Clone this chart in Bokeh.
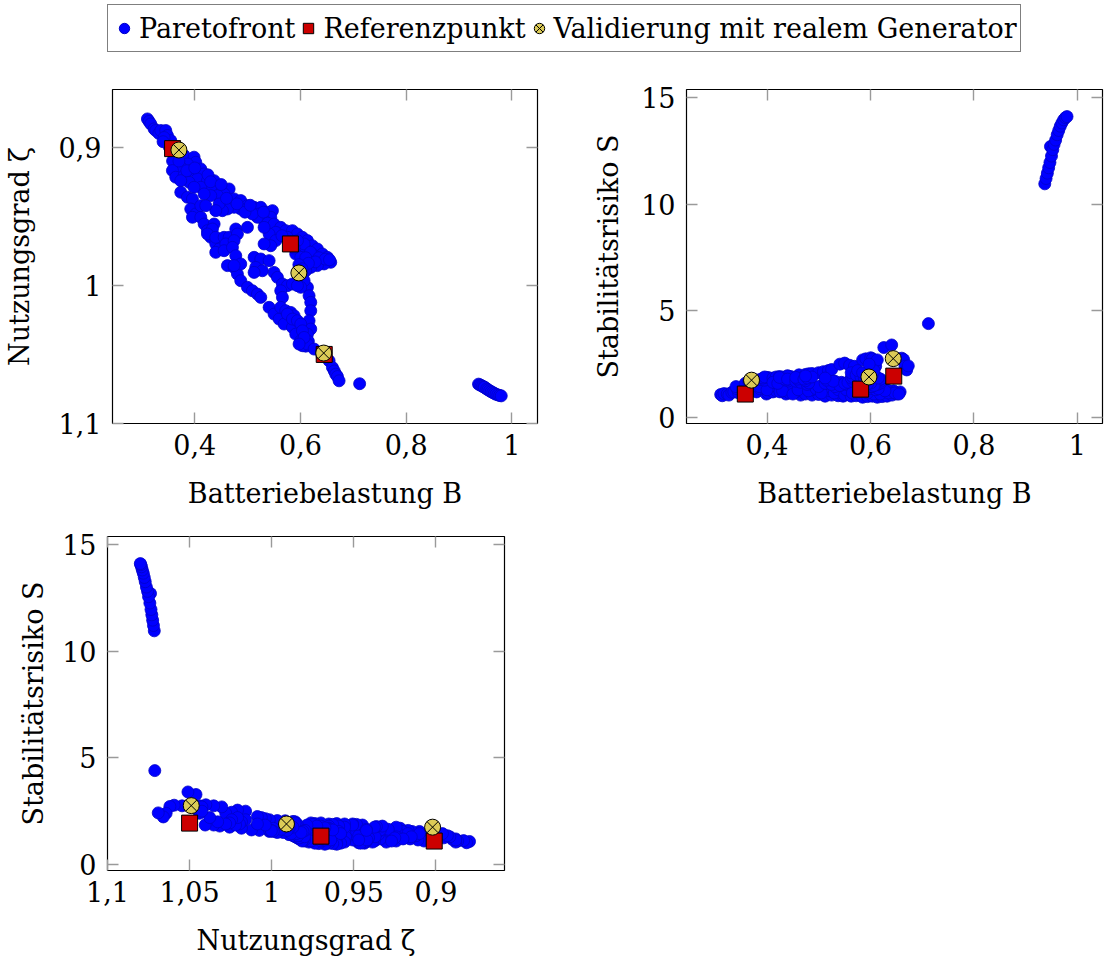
from bokeh.plotting import figure
from bokeh.models import (Range1d, FixedTicker, CustomJSTickFormatter, LinearAxis,
                          Legend, LegendItem, ColumnDataSource)
from bokeh.layouts import column, row
from bokeh.embed import file_html
from bokeh.resources import INLINE

# Pareto front: battery load B, utilisation zeta, stability risk S
B = [0.3104, 0.3135, 0.3167, 0.3230, 0.3262, 0.3320, 0.3357, 0.3451, 0.3483, 0.3546,
     0.3609, 0.3640, 0.3420, 0.3520, 0.3400, 0.3580,
     0.3798, 0.3987, 0.4019, 0.3861, 0.3735, 0.3577, 0.3640, 0.3798, 0.3924, 0.4114,
     0.4177, 0.4050, 0.3893, 0.3735, 0.4240, 0.4366, 0.4429, 0.4303, 0.4114, 0.3987,
     0.4650, 0.4555, 0.4429, 0.4303, 0.4177, 0.4744, 0.4870, 0.4997, 0.4870, 0.4744,
     0.4618, 0.4523, 0.4460, 0.4397, 0.5123, 0.5249, 0.5217, 0.5375, 0.5470, 0.5438,
     0.5312, 0.5186, 0.5091,
     0.3700, 0.3850, 0.4000, 0.4250, 0.4300, 0.4500, 0.4600, 0.4800, 0.4950, 0.5050,
     0.5300, 0.5380,
     0.5501, 0.5627, 0.5722, 0.5533, 0.5407, 0.5312, 0.5816, 0.5848, 0.5943, 0.6037,
     0.6132, 0.6226, 0.6321, 0.6416, 0.6510, 0.6573, 0.6447, 0.6321, 0.6195, 0.6100,
     0.6037, 0.6132, 0.6258, 0.6006, 0.6069, 0.5943, 0.5533, 0.5438, 0.5312, 0.5753,
     0.5911, 0.6006,
     0.5650, 0.5790, 0.5880, 0.6190, 0.6350, 0.6470, 0.6550, 0.6280, 0.6100, 0.6150,
     0.5970, 0.6030,
     0.6132, 0.6163, 0.6195, 0.6195, 0.6163, 0.6195, 0.6132, 0.6069, 0.6006, 0.6100,
     0.6150,
     0.3735, 0.3861, 0.3956, 0.3924, 0.4019, 0.3956, 0.4114, 0.4177, 0.4240, 0.4303,
     0.4397, 0.4460, 0.4397, 0.4618, 0.4744, 0.4807, 0.4870, 0.4997, 0.5091, 0.5186,
     0.5249, 0.5407, 0.5501, 0.5596, 0.5690, 0.5848, 0.5911, 0.6006, 0.6037, 0.6132,
     0.6258, 0.6410, 0.6542, 0.6605, 0.6640, 0.6668, 0.6700, 0.6731,
     0.4114, 0.4208, 0.4366, 0.4334, 0.4240, 0.4397, 0.4555, 0.4650, 0.4587, 0.4555,
     0.4776, 0.4997, 0.4807, 0.4744, 0.4713, 0.4776, 0.4870, 0.4744,
     0.5123, 0.5249, 0.5407, 0.5154, 0.5280, 0.5123, 0.5501, 0.5564, 0.5659, 0.5753,
     0.5848, 0.5943, 0.5627, 0.5659, 0.5627, 0.5722, 0.5816, 0.5880, 0.5753, 0.5848,
     0.5943, 0.6006, 0.6037, 0.6069, 0.5974,
     0.7120,
     0.9370, 0.9395, 0.9420, 0.9445, 0.9470, 0.9500, 0.9480, 0.9525, 0.9550, 0.9580,
     0.9610, 0.9640, 0.9670, 0.9700, 0.9735, 0.9770, 0.9800]

zeta = [0.8795, 0.8813, 0.8831, 0.8867, 0.8879, 0.8900, 0.8879, 0.8879, 0.8915, 0.8952,
        0.9048, 0.9097, 0.8930, 0.9000, 0.8960, 0.9100,
        0.9060, 0.9072, 0.9109, 0.9121, 0.9145, 0.9169, 0.9217, 0.9205, 0.9169, 0.9157,
        0.9193, 0.9229, 0.9254, 0.9242, 0.9242, 0.9242, 0.9290, 0.9302, 0.9290, 0.9290,
        0.9302, 0.9338, 0.9350, 0.9350, 0.9338, 0.9374, 0.9386, 0.9423, 0.9447, 0.9435,
        0.9447, 0.9459, 0.9411, 0.9459, 0.9435, 0.9435, 0.9483, 0.9471, 0.9459, 0.9507,
        0.9531, 0.9507, 0.9483,
        0.9100, 0.9170, 0.9150, 0.9200, 0.9250, 0.9270, 0.9370, 0.9410, 0.9470, 0.9420,
        0.9470, 0.9550,
        0.9556, 0.9580, 0.9604, 0.9616, 0.9628, 0.9580, 0.9652, 0.9604, 0.9628, 0.9652,
        0.9676, 0.9713, 0.9737, 0.9773, 0.9797, 0.9833, 0.9845, 0.9857, 0.9870, 0.9894,
        0.9930, 0.9749, 0.9785, 0.9725, 0.9700, 0.9676, 0.9676, 0.9713, 0.9700, 0.9652,
        0.9773, 0.9797,
        0.9640, 0.9700, 0.9730, 0.9760, 0.9800, 0.9810, 0.9815, 0.9830, 0.9800, 0.9840,
        0.9850, 0.9880,
        1.0014, 1.0075, 1.0123, 1.0184, 1.0256, 1.0316, 1.0353, 0.9966, 1.0014, 1.0440,
        1.0405,
        0.9326, 0.9362, 0.9374, 0.9447, 0.9483, 0.9507, 0.9507, 0.9556, 0.9604, 0.9652,
        0.9700, 0.9737, 0.9761, 0.9857, 0.9870, 0.9918, 0.9966, 1.0014, 1.0039, 1.0063,
        1.0087, 1.0159, 1.0208, 1.0244, 1.0280, 1.0304, 1.0353, 1.0401, 1.0437, 1.0425,
        1.0461, 1.0510, 1.0546, 1.0594, 1.0620, 1.0643, 1.0660, 1.0691,
        0.9423, 0.9423, 0.9556, 0.9592, 0.9628, 0.9652, 0.9652, 0.9652, 0.9700, 0.9749,
        0.9592, 0.9580, 0.9628, 0.9676, 0.9725, 0.9785, 0.9845, 0.9857,
        0.9797, 0.9809, 0.9821, 0.9870, 0.9894, 0.9906, 0.9906, 0.9942, 0.9990, 1.0002,
        0.9990, 1.0002, 1.0039, 1.0087, 1.0159, 1.0184, 1.0196, 1.0220, 1.0208, 1.0244,
        1.0256, 1.0280, 1.0329, 1.0377, 1.0425,
        1.0712,
        1.0715, 1.0720, 1.0725, 1.0730, 1.0735, 1.0742, 1.0738, 1.0750, 1.0756, 1.0763,
        1.0770, 1.0776, 1.0782, 1.0788, 1.0793, 1.0797, 1.0800]

S = [1.08, 1.02, 1.12, 1.10, 1.05, 1.18, 1.20, 1.15, 1.30, 1.25,
     1.40, 1.50, 1.35, 1.40, 1.45, 1.55,
     1.20, 1.10, 1.15, 1.35, 1.55, 1.60, 1.70, 1.55, 1.40, 1.20,
     1.25, 1.45, 1.60, 1.75, 1.30, 1.10, 1.15, 1.35, 1.50, 1.65,
     1.05, 1.20, 1.40, 1.55, 1.62, 1.10, 1.05, 1.08, 1.30, 1.40,
     1.50, 1.60, 1.50, 1.70, 1.00, 1.05, 1.25, 1.02, 1.00, 1.15,
     1.35, 1.45, 1.55,
     1.45, 1.45, 1.30, 1.20, 1.25, 1.10, 1.30, 1.25, 1.35, 1.15,
     1.15, 1.30,
     1.05, 1.00, 1.02, 1.30, 1.50, 1.45, 1.05, 0.95, 0.98, 1.00,
     0.95, 0.98, 1.00, 1.05, 1.10, 1.20, 1.25, 1.30, 1.35, 1.40,
     1.50, 1.15, 1.20, 1.20, 1.10, 1.15, 1.55, 1.65, 1.70, 1.25,
     1.40, 1.35,
     1.15, 1.20, 1.30, 1.10, 1.15, 1.15, 1.10, 1.25, 1.30, 1.35,
     1.45, 1.45,
     1.55, 1.60, 1.62, 1.70, 1.75, 1.80, 1.85, 1.50, 1.62, 2.40,
     1.85,
     1.80, 1.78, 1.75, 1.85, 1.88, 1.90, 1.85, 1.90, 1.92, 1.90,
     1.95, 1.92, 1.95, 2.00, 2.02, 2.05, 2.06, 2.10, 2.15, 2.20,
     2.25, 2.50, 2.55, 2.45, 2.40, 2.70, 2.75, 2.80, 2.75, 2.70,
     3.28, 3.40, 2.75, 2.78, 2.72, 2.40, 2.23, 2.42,
     1.65, 1.60, 1.75, 1.80, 1.88, 1.80, 1.70, 1.65, 1.80, 1.88,
     1.55, 1.45, 1.62, 1.72, 1.80, 1.85, 1.90, 1.95,
     1.60, 1.55, 1.50, 1.75, 1.70, 1.85, 1.60, 1.65, 1.70, 1.60,
     1.55, 1.58, 1.85, 1.90, 2.10, 2.00, 1.90, 1.85, 2.20, 2.10,
     1.95, 1.90, 2.00, 2.20, 2.50,
     4.40,
     10.95, 11.20, 11.45, 11.70, 11.95, 12.25, 12.70, 12.55, 12.80, 13.00,
     13.25, 13.45, 13.65, 13.80, 13.95, 14.05, 14.10]

# Reference operating points and validation with the real generator
ref_B = [0.358, 0.581, 0.645]
ref_zeta = [0.901, 0.970, 1.050]
ref_S = [1.10, 1.33, 1.94]

val_B = [0.370, 0.597, 0.644]
val_zeta = [0.902, 0.991, 1.049]
val_S = [1.75, 1.90, 2.76]

B_ticks = [0.4, 0.6, 0.8, 1.0]
zeta_ticks = [0.9, 1.0, 1.1]
zeta_ticks_x = [1.1, 1.05, 1.0, 0.95, 0.9]
S_ticks = [0, 5, 10, 15]

FONT = "DejaVu Serif"
FS = "27px"
PARETO_FILL = "#0000ff"
PARETO_LINE = "#0000c8"
REF_FILL = "#cc0000"
VAL_FILL = "#dccb57"

comma_fmt = CustomJSTickFormatter(code="return String(tick).replace('.', ',');")

pareto = ColumnDataSource(data=dict(B=B, zeta=zeta, S=S))
ref = ColumnDataSource(data=dict(B=ref_B, zeta=ref_zeta, S=ref_S))
val = ColumnDataSource(data=dict(B=val_B, zeta=val_zeta, S=val_S))


def style_axis(ax, ticks, standoff=11, show_labels=True):
    ax.ticker = FixedTicker(ticks=ticks)
    ax.formatter = comma_fmt
    ax.axis_line_color = None
    ax.major_tick_in = 11
    ax.major_tick_out = 0
    ax.major_tick_line_color = "#9a9a9a"
    ax.major_tick_line_width = 1.4
    ax.minor_tick_line_color = None
    ax.major_label_text_font = FONT
    ax.axis_label_text_font = FONT
    ax.axis_label_text_font_style = "normal"
    ax.axis_label_text_color = "black"
    ax.axis_label_text_font_size = FS
    if show_labels:
        ax.major_label_text_color = "black"
        ax.major_label_text_font_size = FS
        ax.major_label_standoff = standoff
    else:
        # mirrored tick marks only
        ax.major_label_text_color = None
        ax.major_label_text_font_size = "1px"
        ax.major_label_standoff = 0


def make_panel(xcol, ycol, x_range, y_range, xticks, yticks, xlabel, ylabel,
               fw, fh, left, right, top, bottom, xl_standoff, yl_standoff):
    p = figure(frame_width=fw, frame_height=fh, x_range=x_range, y_range=y_range,
               min_border_left=left, min_border_right=right,
               min_border_top=top, min_border_bottom=bottom,
               toolbar_location=None, output_backend="svg",
               background_fill_color="white", border_fill_color="white")
    p.grid.visible = False
    p.outline_line_color = "black"
    p.outline_line_width = 1.2
    style_axis(p.xaxis[0], xticks, standoff=10)
    style_axis(p.yaxis[0], yticks, standoff=11)
    p.xaxis[0].axis_label = xlabel
    p.yaxis[0].axis_label = ylabel
    p.xaxis[0].axis_label_standoff = xl_standoff
    p.yaxis[0].axis_label_standoff = yl_standoff
    top_ax = LinearAxis()
    style_axis(top_ax, xticks, show_labels=False)
    p.add_layout(top_ax, "above")
    right_ax = LinearAxis()
    style_axis(right_ax, yticks, show_labels=False)
    p.add_layout(right_ax, "right")

    p.scatter(xcol, ycol, source=pareto, marker="circle", size=12,
              fill_color=PARETO_FILL, line_color=PARETO_LINE, line_width=0.8)
    p.scatter(xcol, ycol, source=ref, marker="square", size=16,
              fill_color=REF_FILL, line_color="black", line_width=1)
    p.scatter(xcol, ycol, source=val, marker="circle_x", size=16,
              fill_color=VAL_FILL, line_color="black", line_width=1)
    return p


B_range = (0.2443, 1.0486)
zeta_range = (1.1, 0.8582)
S_range = (-0.28, 15.37)

p1 = make_panel("B", "zeta", Range1d(*B_range), Range1d(*zeta_range),
                B_ticks, zeta_ticks, "Batteriebelastung B", "Nutzungsgrad ζ",
                425, 334, 112, 10, 29, 90, 20, 21)
p2 = make_panel("B", "S", Range1d(*B_range), Range1d(*S_range),
                B_ticks, S_ticks, "Batteriebelastung B", "Stabilitätsrisiko S",
                416, 334, 139, 11, 29, 90, 20, 14)
p3 = make_panel("zeta", "S", Range1d(*zeta_range), Range1d(*S_range),
                zeta_ticks_x, S_ticks, "Nutzungsgrad ζ", "Stabilitätsrisiko S",
                397, 334, 104, 10, 23, 91, 20, 10)

# Shared legend strip across the top; the legend glyphs reuse the data sources,
# which fall outside this strip's ranges and so are not drawn themselves
lg = figure(frame_width=1006, frame_height=56, x_range=Range1d(0, 1),
            y_range=Range1d(20, 30), x_axis_type=None, y_axis_type=None,
            toolbar_location=None, output_backend="svg",
            min_border_left=107, min_border_right=0, min_border_top=4,
            min_border_bottom=0, outline_line_color=None)
lg.grid.visible = False
r_pf = lg.scatter("B", "zeta", source=pareto, marker="circle",
                  fill_color=PARETO_FILL, line_color=PARETO_LINE)
r_ref = lg.scatter("B", "zeta", source=ref, marker="square",
                   fill_color=REF_FILL, line_color="black")
r_val = lg.scatter("B", "zeta", source=val, marker="circle_x",
                   fill_color=VAL_FILL, line_color="black")
legend = Legend(items=[LegendItem(label="Paretofront", renderers=[r_pf]),
                       LegendItem(label="Referenzpunkt", renderers=[r_ref]),
                       LegendItem(label="Validierung mit realem Generator", renderers=[r_val])],
                orientation="horizontal", location="top_left",
                label_text_font=FONT, label_text_font_size=FS, label_text_color="black",
                border_line_color="black", border_line_width=1,
                background_fill_color="white", background_fill_alpha=1,
                padding=3, spacing=0, margin=0, glyph_width=26, glyph_height=40,
                label_standoff=2)
lg.add_layout(legend)

layout = column(lg, row(p1, p2), p3)

open("out.html", "w").write(file_html(layout, INLINE))
